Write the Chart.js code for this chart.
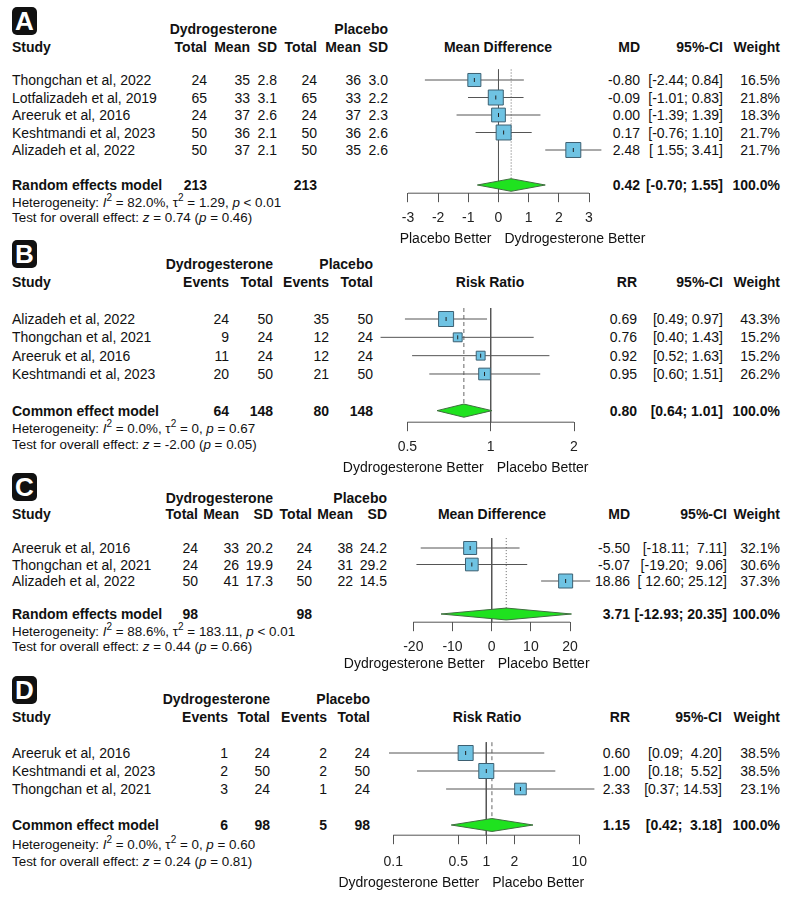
<!DOCTYPE html>
<html>
<head>
<meta charset="utf-8">
<script src="https://cdn.jsdelivr.net/npm/chart.js@4.4.0/dist/chart.umd.min.js"></script>
<style>
html, body { margin: 0; padding: 0; background: #fff; }
#page { position: relative; width: 794px; height: 912px; overflow: hidden;
  font-family: "Liberation Sans", Arial, Helvetica, sans-serif; color: #111; }
.t { position: absolute; font-size: 14px; line-height: 18px; white-space: pre; }
.b { font-weight: bold; }
.s { font-size: 13.4px; }
.lab { position: absolute; left: 12px; width: 25px; height: 28px; background: #111; border-radius: 5px;
  color: #fff; font: bold 26px/29px "Liberation Sans", Arial, sans-serif; text-align: center; }
.plot { position: absolute; left: 370px; }
sup { font-size: 10px; line-height: 0; vertical-align: 6px; }
</style>
</head>
<body>
<div id="page"></div>
<script>
// ---- A: mean difference (random effects)
const studiesA = ['Thongchan et al, 2022', 'Lotfalizadeh et al, 2019', 'Areeruk et al, 2016', 'Keshtmandi et al, 2023', 'Alizadeh et al, 2022'];
const dydTotalA = [24, 65, 24, 50, 50];
const dydMeanA = [35, 33, 37, 36, 37];
const dydSdA = [2.8, 3.1, 2.6, 2.1, 2.1];
const plaTotalA = [24, 65, 24, 50, 50];
const plaMeanA = [36, 33, 37, 36, 35];
const plaSdA = [3.0, 2.2, 2.3, 2.6, 2.6];
const mdA = [-0.80, -0.09, 0.00, 0.17, 2.48];
const lowerA = [-2.44, -1.01, -1.39, -0.76, 1.55];
const upperA = [0.84, 0.83, 1.39, 1.10, 3.41];
const weightA = [16.5, 21.8, 18.3, 21.7, 21.7];
const pooledA = [0.42, -0.70, 1.55];
const modelA = [213, '', '', 213, '', ''];
const hetA = ['82.0%', '1.29', '< 0.01'];
const testA = ['0.74', '0.46'];
const ticksA = [-3, -2, -1, 0, 1, 2, 3];

// ---- B: risk ratio (common effect)
const studiesB = ['Alizadeh et al, 2022', 'Thongchan et al, 2021', 'Areeruk et al, 2016', 'Keshtmandi et al, 2023'];
const dydEventsB = [24, 9, 11, 20];
const dydTotalB = [50, 24, 24, 50];
const plaEventsB = [35, 12, 12, 21];
const plaTotalB = [50, 24, 24, 50];
const rrB = [0.69, 0.76, 0.92, 0.95];
const lowerB = [0.49, 0.40, 0.52, 0.60];
const upperB = [0.97, 1.43, 1.63, 1.51];
const weightB = [43.3, 15.2, 15.2, 26.2];
const pooledB = [0.80, 0.64, 1.01];
const modelB = [64, 148, 80, 148];
const hetB = ['0.0%', '0', '= 0.67'];
const testB = ['-2.00', '0.05'];
const ticksB = [0.5, 1, 2];

// ---- C: mean difference (random effects)
const studiesC = ['Areeruk et al, 2016', 'Thongchan et al, 2021', 'Alizadeh et al, 2022'];
const dydTotalC = [24, 24, 50];
const dydMeanC = [33, 26, 41];
const dydSdC = [20.2, 19.9, 17.3];
const plaTotalC = [24, 24, 50];
const plaMeanC = [38, 31, 22];
const plaSdC = [24.2, 29.2, 14.5];
const mdC = [-5.50, -5.07, 18.86];
const lowerC = [-18.11, -19.20, 12.60];
const upperC = [7.11, 9.06, 25.12];
const weightC = [32.1, 30.6, 37.3];
const pooledC = [3.71, -12.93, 20.35];
const modelC = [98, '', '', 98, '', ''];
const hetC = ['88.6%', '183.11', '< 0.01'];
const testC = ['0.44', '0.66'];
const ticksC = [-20, -10, 0, 10, 20];

// ---- D: risk ratio (common effect)
const studiesD = ['Areeruk et al, 2016', 'Keshtmandi et al, 2023', 'Thongchan et al, 2021'];
const dydEventsD = [1, 2, 3];
const dydTotalD = [24, 50, 24];
const plaEventsD = [2, 2, 1];
const plaTotalD = [24, 50, 24];
const rrD = [0.60, 1.00, 2.33];
const lowerD = [0.09, 0.18, 0.37];
const upperD = [4.20, 5.52, 14.53];
const weightD = [38.5, 38.5, 23.1];
const pooledD = [1.15, 0.42, 3.18];
const modelD = [6, 98, 5, 98];
const hetD = ['0.0%', '0', '= 0.60'];
const testD = ['0.24', '0.81'];
const ticksD = [0.1, 0.5, 1, 2, 10];

const page = document.getElementById('page');
const FONT = '"Liberation Sans", Arial, Helvetica, sans-serif';

function put(x, y, html, align, cls) {
  const el = document.createElement('div');
  el.className = 't ' + (cls || '');
  el.innerHTML = html;
  el.style.top = (y - 9) + 'px';
  if (align === 'r') { el.style.left = (x - 400) + 'px'; el.style.width = '400px'; el.style.textAlign = 'right'; }
  else if (align === 'c') { el.style.left = (x - 200) + 'px'; el.style.width = '400px'; el.style.textAlign = 'center'; }
  else el.style.left = x + 'px';
  page.appendChild(el);
  return el;
}
const esc = s => String(s).replace(/</g, '&lt;');
const f2 = v => v.toFixed(2);

const mdHeads = ['Total', 'Mean', 'SD', 'Total', 'Mean', 'SD'];
const rrHeads = ['Events', 'Total', 'Events', 'Total'];

const panels = [
  { letter: 'A', box: 7, studies: studiesA,
    cols: [dydTotalA, dydMeanA, dydSdA.map(v => v.toFixed(1)), plaTotalA, plaMeanA, plaSdA.map(v => v.toFixed(1))],
    heads: mdHeads, colX: [207, 250, 277, 317, 361, 388], groupX: [277, 388],
    est: mdA, lo: lowerA, hi: upperA, w: weightA, pooled: pooledA, model: modelA,
    modelName: 'Random effects model', het: hetA, test: testA, ticks: ticksA,
    plotHead: 'Mean Difference', estHead: 'MD', headX: 498, estX: 640, ciX: 723,
    left: 'Placebo Better', right: 'Dydrogesterone Better',
    h1: 29, h2: 47, r1: 80, s: 17.5, hetY: 203, testY: 218, axis: 193, bottom: 238,
    log: false, min: -4.259, max: 4.027, nullV: 0, dash: [1, 2], sq: 15, tickPad: 8 },
  { letter: 'B', box: 240, studies: studiesB,
    cols: [dydEventsB, dydTotalB, plaEventsB, plaTotalB],
    heads: rrHeads, colX: [229, 273, 329, 373], groupX: [273, 373],
    est: rrB, lo: lowerB, hi: upperB, w: weightB, pooled: pooledB, model: modelB,
    modelName: 'Common effect model', het: hetB, test: testB, ticks: ticksB,
    plotHead: 'Risk Ratio', estHead: 'RR', headX: 490, estX: 637, ciX: 723,
    left: 'Dydrogesterone Better', right: 'Placebo Better',
    h1: 264, h2: 282, r1: 319, s: 18.33, hetY: 429, testY: 445, axis: 422, bottom: 466.5,
    log: true, min: 0.3664, max: 2.932, nullV: 1, dash: [4, 3], sq: 15, tickPad: 8 },
  { letter: 'C', box: 473, studies: studiesC,
    cols: [dydTotalC, dydMeanC, dydSdC.map(v => v.toFixed(1)), plaTotalC, plaMeanC, plaSdC.map(v => v.toFixed(1))],
    heads: mdHeads, colX: [198, 239, 273, 312, 353, 387], groupX: [273, 387],
    est: mdC, lo: lowerC, hi: upperC, w: weightC, pooled: pooledC, model: modelC,
    modelName: 'Random effects model', het: hetC, test: testC, ticks: ticksC,
    plotHead: 'Mean Difference', estHead: 'MD', headX: 492, estX: 630, ciX: 727,
    left: 'Dydrogesterone Better', right: 'Placebo Better',
    h1: 498, h2: 514, r1: 548, s: 16.5, hetY: 632, testY: 647, axis: 622, bottom: 663,
    log: false, min: -31.05, max: 32.73, nullV: 0, dash: [1, 2], sq: 14, tickPad: 8 },
  { letter: 'D', box: 676, studies: studiesD,
    cols: [dydEventsD, dydTotalD, plaEventsD, plaTotalD],
    heads: rrHeads, colX: [228, 270, 327, 370], groupX: [270, 370],
    est: rrD, lo: lowerD, hi: upperD, w: weightD, pooled: pooledD, model: modelD,
    modelName: 'Common effect model', het: hetD, test: testD, ticks: ticksD,
    plotHead: 'Risk Ratio', estHead: 'RR', headX: 487, estX: 630, ciX: 722,
    left: 'Dydrogesterone Better', right: 'Placebo Better',
    h1: 699, h2: 717, r1: 753, s: 18, hetY: 845, testY: 862, axis: 835, bottom: 882,
    log: true, min: 0.05623, max: 27.37, nullV: 1, dash: [4, 3], sq: 15, tickPad: 10 }
];

function line(points, extra) {
  return Object.assign({ data: points, showLine: true, pointRadius: 0, borderColor: '#555',
    borderWidth: 1, fill: false, clip: false, order: 4 }, extra || {});
}

function drawPanel(p) {
  const n = p.studies.length;
  const rowY = i => p.r1 + i * p.s;
  const poolY = rowY(n + 1);

  const box = document.createElement('div');
  box.className = 'lab'; box.style.top = p.box + 'px'; box.textContent = p.letter;
  page.appendChild(box);

  // table headers
  put(p.groupX[0], p.h1, 'Dydrogesterone', 'r', 'b');
  put(p.groupX[1], p.h1, 'Placebo', 'r', 'b');
  put(12, p.h2, 'Study', 'l', 'b');
  p.heads.forEach((h, j) => put(p.colX[j], p.h2, h, 'r', 'b'));
  put(p.headX, p.h2, p.plotHead, 'c', 'b');
  put(p.estX, p.h2, p.estHead, 'r', 'b');
  put(p.ciX, p.h2, '95%-CI', 'r', 'b');
  put(780, p.h2, 'Weight', 'r', 'b');

  // CI strings padded like R
  const loS = p.lo.concat([p.pooled[1]]).map(f2);
  const hiS = p.hi.concat([p.pooled[2]]).map(f2);
  const wl = Math.max(...loS.map(s => s.length));
  const wh = Math.max(...hiS.map(s => s.length));
  const ci = i => '[' + loS[i].padStart(wl) + '; ' + hiS[i].padStart(wh) + ']';

  p.studies.forEach((name, i) => {
    const y = rowY(i);
    put(12, y, name, 'l');
    p.cols.forEach((c, j) => put(p.colX[j], y, String(c[i]), 'r'));
    put(p.estX, y, f2(p.est[i]), 'r');
    put(p.ciX, y, ci(i), 'r');
    put(780, y, p.w[i].toFixed(1) + '%', 'r');
  });

  put(12, poolY, p.modelName, 'l', 'b');
  p.model.forEach((v, j) => { if (v !== '') put(p.colX[j], poolY, String(v), 'r', 'b'); });
  put(p.estX, poolY, f2(p.pooled[0]), 'r', 'b');
  put(p.ciX, poolY, ci(n), 'r', 'b');
  put(780, poolY, '100.0%', 'r', 'b');

  put(12, p.hetY, 'Heterogeneity: <i>I</i><sup>2</sup> = ' + p.het[0] + ', \u03c4<sup>2</sup> = ' + p.het[1] +
    ', <i>p</i> ' + esc(p.het[2]), 'l', 's');
  put(12, p.testY, 'Test for overall effect: <i>z</i> = ' + p.test[0] + ' (<i>p</i> = ' + p.test[1] + ')', 'l', 's');

  // forest plot
  const axisH = 9 + 16.8 + 2 * p.tickPad;
  const top = Math.round(p.r1 - p.s);
  const h = Math.round(p.axis - top + axisH);
  const areaBottom = top + h - axisH;
  const yMin = 1 + (top - p.r1) / p.s;
  const yMax = 1 + (areaBottom - p.r1) / p.s;
  const yPool = n + 2;
  const dh = 0.36;

  const wrap = document.createElement('div');
  wrap.className = 'plot';
  wrap.style.top = top + 'px';
  const cv = document.createElement('canvas');
  cv.width = 250; cv.height = h;
  wrap.appendChild(cv);
  page.appendChild(wrap);

  const pts = p.est.map((v, i) => ({ x: v, y: i + 1 }));
  const wMax = Math.max(...p.w);
  const datasets = [
    { data: pts, pointStyle: 'line', rotation: 90, pointRadius: 2, borderColor: '#222', borderWidth: 1, clip: false, order: 0 },
    { data: pts, pointStyle: 'rect', pointRadius: p.w.map(w => Math.sqrt(w / wMax) * p.sq * Math.SQRT1_2),
      backgroundColor: '#6fc3e3', borderColor: '#3d6072', borderWidth: 1, clip: false, order: 1 },
    line([{ x: p.pooled[1], y: yPool }, { x: p.pooled[0], y: yPool - dh }, { x: p.pooled[2], y: yPool },
          { x: p.pooled[0], y: yPool + dh }, { x: p.pooled[1], y: yPool }],
         { fill: 'shape', backgroundColor: '#1fe21f', borderColor: '#3f6f3f', order: 2 }),
    line([{ x: p.nullV, y: 0.4 }, { x: p.nullV, y: yMax }]),
    line([{ x: p.pooled[0], y: 0.4 }, { x: p.pooled[0], y: yPool - dh }], { borderDash: p.dash, borderColor: '#666' }),
    line([{ x: p.ticks[0], y: yMax }, { x: p.ticks[p.ticks.length - 1], y: yMax }])
  ];
  p.lo.forEach((lo, i) => datasets.push(line([{ x: lo, y: i + 1 }, { x: p.hi[i], y: i + 1 }], { order: 3 })));

  const chart = new Chart(cv, {
    type: 'scatter',
    data: { datasets },
    options: {
      responsive: false,
      animation: false,
      events: [],
      layout: { padding: 0, autoPadding: false },
      plugins: { legend: { display: false }, tooltip: { enabled: false } },
      scales: {
        x: {
          type: p.log ? 'logarithmic' : 'linear',
          min: p.min, max: p.max, bounds: 'data',
          afterBuildTicks: s => { s.ticks = p.ticks.map(v => ({ value: v })); },
          ticks: { callback: v => String(v), autoSkip: false, maxRotation: 0, padding: p.tickPad,
                   font: { family: FONT, size: 14 }, color: '#222' },
          grid: { drawOnChartArea: false, drawTicks: true, tickLength: 9, color: '#555', lineWidth: 1 },
          border: { display: false }
        },
        y: { display: false, min: yMin, max: yMax, reverse: true }
      }
    }
  });

  const nullPx = 370 + chart.scales.x.getPixelForValue(p.nullV);
  put(nullPx - 7, p.bottom, p.left, 'r');
  put(nullPx + 6, p.bottom, p.right, 'l');
}

panels.forEach(drawPanel);
</script>
</body>
</html>
